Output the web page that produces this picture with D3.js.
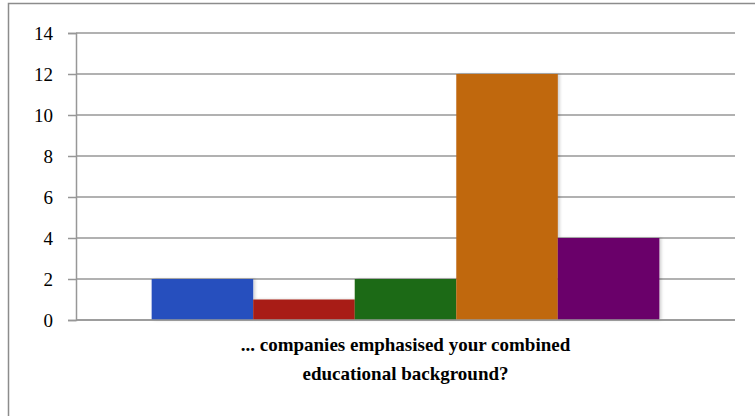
<!DOCTYPE html>
<html>
<head>
<meta charset="utf-8">
<script src="https://cdn.jsdelivr.net/npm/d3@7"></script>
<style>
  html, body { margin: 0; padding: 0; background: #fff; }
  svg { display: block; }
  svg text, svg tspan { font-family: "Liberation Serif", "Times New Roman", serif !important; font-size: 19px !important; }
</style>
</head>
<body>
<svg id="chart" width="755" height="416"></svg>
<script>
// Chart data
const category = "... companies emphasised your combined educational background?";
const categoryLines = ["... companies emphasised your combined", "educational background?"];
const seriesNames = ["S1", "S2", "S3", "S4", "S5"];
const seriesValues = [2, 1, 2, 12, 4];
const seriesColors = ["#2850BE", "#A81F12", "#1A6B12", "#C0670A", "#6B006B"];
const yTicks = [0, 2, 4, 6, 8, 10, 12, 14];

const svg = d3.select("#chart");
const plotLeft = 76, plotRight = 735, plotTop = 33, plotBottom = 320;
const FONT = '"Liberation Serif", "Times New Roman", serif';

// Outer chart frame
svg.append("rect")
  .attr("x", 8.5).attr("y", 3.5)
  .attr("width", 760).attr("height", 430)
  .attr("fill", "#fff")
  .attr("stroke", "#8c8c8c").attr("stroke-width", 1.5);

const defs = svg.append("defs");
const shadow = defs.append("filter").attr("id", "barShadow")
  .attr("x", "-10%").attr("y", "-10%").attr("width", "130%").attr("height", "120%");
shadow.append("feDropShadow")
  .attr("dx", 2).attr("dy", 0).attr("stdDeviation", 1.5)
  .attr("flood-color", "#000").attr("flood-opacity", 0.18);

const y = d3.scaleLinear().domain([0, 14]).range([plotBottom, plotTop]);
// one category; the bar group takes ~77% of the plot width
const x0 = d3.scaleBand().domain([category]).range([plotLeft, plotRight])
  .paddingInner(0).paddingOuter(0.149);
const x1 = d3.scaleBand().domain(seriesNames).range([0, x0.bandwidth()]).padding(0);

// Horizontal gridlines
svg.append("g")
  .selectAll("line")
  .data(yTicks)
  .join("line")
  .attr("x1", plotLeft).attr("x2", plotRight)
  .attr("y1", d => y(d)).attr("y2", d => y(d))
  .attr("stroke", "#979797").attr("stroke-width", 1.5);

// Y axis
const yAxis = d3.axisLeft(y).tickValues(yTicks).tickSize(8).tickPadding(15);
const gy = svg.append("g")
  .attr("transform", `translate(${plotLeft},0)`)
  .call(yAxis);
gy.select(".domain").attr("stroke", "#979797").attr("stroke-width", 1.5);
gy.selectAll(".tick line").attr("stroke", "#979797").attr("stroke-width", 1.5);
gy.selectAll(".tick text")
  .attr("fill", "#000")
  .style("font-family", FONT, "important")
  .style("font-size", "19px", "important");

// Bars
svg.append("g")
  .attr("transform", `translate(${x0(category)},0)`)
  .selectAll("rect")
  .data(seriesValues.map((v, i) => ({ name: seriesNames[i], value: v, color: seriesColors[i] })))
  .join("rect")
  .attr("x", d => x1(d.name))
  .attr("width", x1.bandwidth())
  .attr("y", d => y(d.value))
  .attr("height", d => y(0) - y(d.value))
  .attr("fill", d => d.color)
  .attr("filter", "url(#barShadow)");

// Baseline drawn over bars
svg.append("line")
  .attr("x1", plotLeft).attr("x2", plotRight)
  .attr("y1", y(0)).attr("y2", y(0))
  .attr("stroke", "#979797").attr("stroke-width", 1.5);

// Category label
const cx = x0(category) + x0.bandwidth() / 2;
const label = svg.append("text")
  .attr("x", cx)
  .attr("y", 351)
  .attr("text-anchor", "middle")
  .attr("fill", "#000")
  .style("font-family", FONT, "important")
  .style("font-weight", "bold", "important")
  .style("font-size", "19px", "important");
label.selectAll("tspan")
  .data(categoryLines)
  .join("tspan")
  .attr("x", cx)
  .attr("dy", (d, i) => i === 0 ? 0 : 29)
  .text(d => d);
</script>
</body>
</html>
